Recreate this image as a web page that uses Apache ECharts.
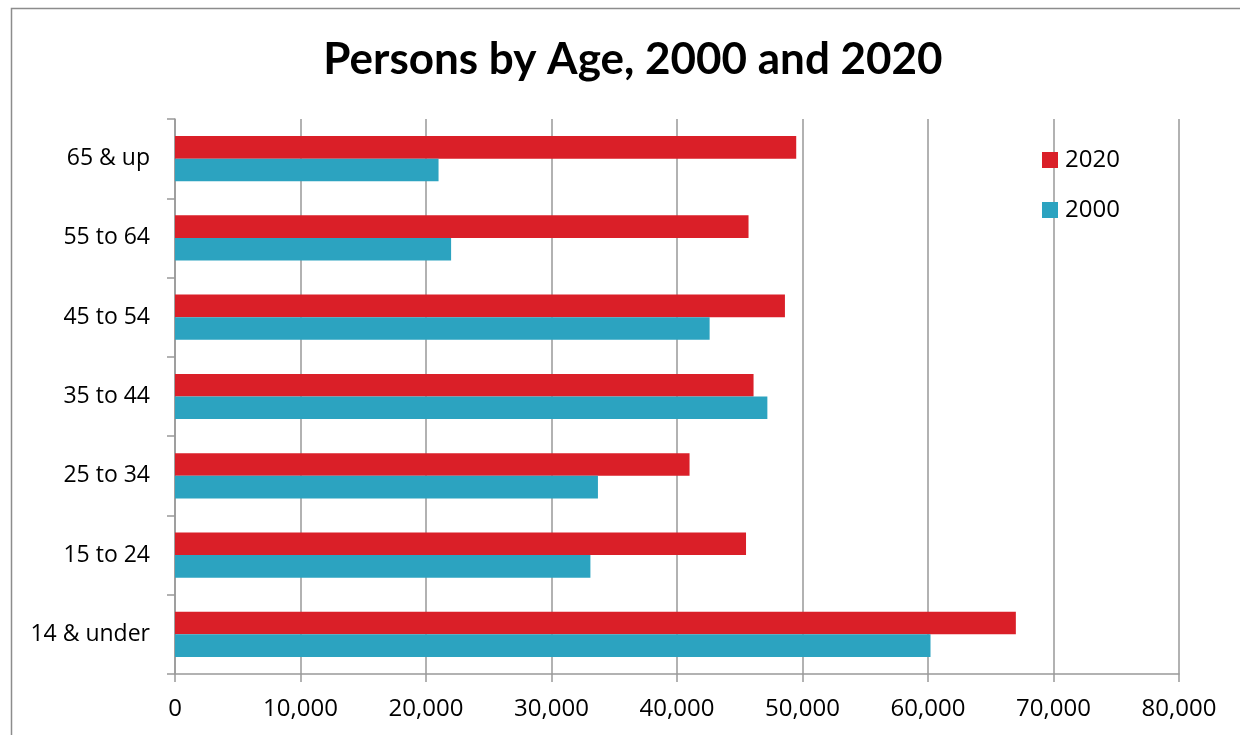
<!DOCTYPE html>
<html>
<head>
<meta charset="utf-8">
<script src="https://cdn.jsdelivr.net/npm/echarts@6/dist/echarts.min.js"></script>
<style>
html,body{margin:0;padding:0;background:#fff;}
#c{width:1240px;height:735px;}
</style>
</head>
<body>
<div id="c"></div>
<script>
const categories = ['14 & under', '15 to 24', '25 to 34', '35 to 44', '45 to 54', '55 to 64', '65 & up'];
const values2000 = [60200, 33100, 33700, 47200, 42600, 22000, 21000];
const values2020 = [67000, 45500, 41000, 46100, 48600, 45700, 49500];
const xTicks = [0, 10000, 20000, 30000, 40000, 50000, 60000, 70000, 80000];

const FONT = '"Open Sans", sans-serif';
const chart = echarts.init(document.getElementById('c'), null, {renderer: 'canvas'});
chart.setOption({
  animation: false,
  backgroundColor: '#fff',
  graphic: [{
    type: 'rect',
    shape: {x: 11.5, y: 8.5, width: 1300, height: 800},
    style: {fill: 'none', stroke: '#8c8c8c', lineWidth: 1.5},
    silent: true
  }],
  title: {
    text: 'Persons by Age, 2000 and 2020',
    left: 628, textAlign: 'center', top: 33,
    textStyle: {fontFamily: 'Lato', fontWeight: 'bold', fontSize: 44, color: '#000'}
  },
  legend: {
    data: ['2020', '2000'],
    orient: 'vertical',
    left: 1037, top: 143,
    icon: 'rect',
    itemWidth: 16, itemHeight: 16, itemGap: 26,
    textStyle: {fontFamily: FONT, fontSize: 24, color: '#000', padding: [0, 0, 0, 2]}
  },
  grid: {left: 175, right: 61, top: 119, bottom: 61, containLabel: false},
  xAxis: {
    type: 'value', min: xTicks[0], max: xTicks[xTicks.length - 1], interval: xTicks[1] - xTicks[0],
    axisLine: {show: true, lineStyle: {color: '#999', width: 1.5}},
    axisTick: {show: true, length: 8, lineStyle: {color: '#999', width: 1.5}},
    splitLine: {show: true, lineStyle: {color: '#999', width: 1.5}},
    axisLabel: {
      margin: 23, fontFamily: FONT, fontSize: 24, color: '#000',
      formatter: v => v.toLocaleString('en-US')
    }
  },
  yAxis: {
    type: 'category', data: categories,
    axisLine: {show: true, lineStyle: {color: '#999', width: 1.5}},
    axisTick: {show: true, length: 8, lineStyle: {color: '#999', width: 1.5}},
    axisLabel: {margin: 25, fontFamily: FONT, fontSize: 23, color: '#000'}
  },
  series: [
    {name: '2020', type: 'bar', data: values2020, itemStyle: {color: '#DA1F28'}, barGap: '0%', barCategoryGap: '43%'},
    {name: '2000', type: 'bar', data: values2000, itemStyle: {color: '#2CA3C0'}, barGap: '0%', barCategoryGap: '43%'}
  ]
});
</script>
</body>
</html>
